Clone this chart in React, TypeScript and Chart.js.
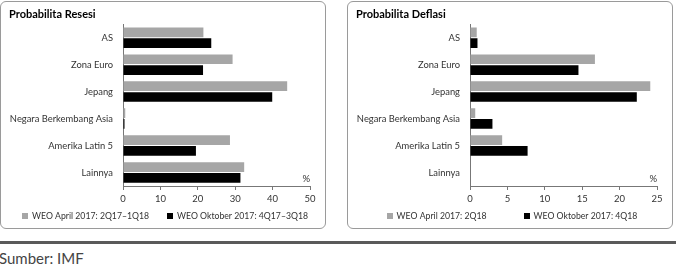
import React, { useEffect, useRef } from "react";
import { Chart, registerables } from "chart.js";

Chart.register(...registerables);

const categories = ["AS", "Zona Euro", "Jepang", "Negara Berkembang Asia", "Amerika Latin 5", "Lainnya"];

const resesiTitle = "Probabilita Resesi";
const resesiLabels = ["WEO April 2017: 2Q17–1Q18", "WEO Oktober 2017: 4Q17–3Q18"];
const resesiApril = [21.5, 29.3, 43.9, 0.6, 28.6, 32.4];
const resesiOktober = [23.6, 21.4, 39.9, 0.4, 19.5, 31.4];
const resesiMax = 50;
const resesiStep = 10;

const deflasiTitle = "Probabilita Deflasi";
const deflasiLabels = ["WEO April 2017: 2Q18", "WEO Oktober 2017: 4Q18"];
const deflasiApril = [0.9, 16.7, 24.1, 0.7, 4.3, 0];
const deflasiOktober = [1.0, 14.5, 22.3, 3.0, 7.7, 0];
const deflasiMax = 25;
const deflasiStep = 5;

const FONT = "Lato, 'Open Sans', sans-serif";
const W = 326;
const H = 230;

const percentPlugin = {
  id: "percentLabel",
  afterDraw(chart: any) {
    const { ctx, chartArea } = chart;
    ctx.save();
    ctx.font = `9.5px ${FONT}`;
    ctx.fillStyle = "#333";
    ctx.textAlign = "right";
    ctx.textBaseline = "bottom";
    ctx.fillText("%", chartArea.right, chartArea.bottom - 2);
    ctx.restore();
  },
};

const legendPlugin = {
  id: "rowLegend",
  afterDraw(chart: any, _args: any, opts: any) {
    const { ctx } = chart;
    const box = 6;
    const boxGap = 4;
    ctx.save();
    ctx.font = `${opts.fontSize}px ${FONT}`;
    const items = chart.data.datasets.map((d: any) => ({
      label: d.label as string,
      color: d.backgroundColor as string,
      w: box + boxGap + ctx.measureText(d.label).width,
    }));
    const total = items.reduce((s: number, it: any) => s + it.w, 0) + opts.gap * (items.length - 1);
    let x = opts.centerX - total / 2;
    const y = chart.chartArea.bottom + opts.offsetY;
    ctx.textBaseline = "middle";
    ctx.textAlign = "left";
    for (const it of items) {
      ctx.fillStyle = it.color;
      ctx.fillRect(Math.round(x), Math.round(y - box / 2), box, box);
      ctx.fillStyle = "#333";
      ctx.fillText(it.label, x + box + boxGap, y);
      x += it.w + opts.gap;
    }
    ctx.restore();
  },
};

function Panel(props: {
  left: number;
  title: string;
  labels: string[];
  a: number[];
  b: number[];
  max: number;
  step: number;
  gap: number;
}) {
  const ref = useRef<HTMLCanvasElement | null>(null);
  useEffect(() => {
    if (!ref.current) return;
    const chart = new Chart(ref.current, {
      type: "bar",
      data: {
        labels: categories,
        datasets: [
          { label: props.labels[0], data: props.a, backgroundColor: "#a6a6a6", borderWidth: 0 },
          { label: props.labels[1], data: props.b, backgroundColor: "#000000", borderWidth: 0 },
        ],
      },
      options: {
        indexAxis: "y",
        responsive: false,
        animation: false,
        devicePixelRatio: 1,
        datasets: { bar: { categoryPercentage: 0.8, barPercentage: 0.9 } },
        layout: { padding: { left: 9, right: 16, top: 0, bottom: 24 } },
        scales: {
          x: {
            min: 0,
            max: props.max,
            afterFit: (s: any) => {
              s.height = 20;
            },
            ticks: { stepSize: props.step, padding: 3, color: "#333", font: { size: 9.5, family: FONT } },
            grid: { drawOnChartArea: false, drawTicks: true, tickLength: 4, color: "#777" },
            border: { display: true, color: "#777" },
          },
          y: {
            afterFit: (s: any) => {
              s.width = 114;
            },
            ticks: { padding: 10, color: "#333", font: { size: 9.4, family: FONT }, autoSkip: false },
            grid: { drawOnChartArea: false, drawTicks: false },
            border: { display: true, color: "#777" },
          },
        },
        plugins: {
          title: {
            display: true,
            text: props.title,
            align: "start",
            color: "#000",
            font: { size: 11, weight: "bold", family: FONT },
            padding: { top: 8, bottom: 3 },
          },
          legend: { display: false },
          tooltip: { enabled: false },
          rowLegend: { fontSize: 8.7, gap: props.gap, centerX: 165, offsetY: 30 },
        },
      },
      plugins: [percentPlugin, legendPlugin],
    } as any);
    return () => chart.destroy();
  }, []);
  return (
    <>
      <div
        style={{
          position: "absolute",
          left: props.left,
          top: 1,
          width: W,
          height: 228,
          boxSizing: "border-box",
          border: "1px solid #9a9a9a",
          borderRadius: 6,
        }}
      />
      <canvas
        ref={ref}
        width={W}
        height={H}
        style={{ position: "absolute", left: props.left, top: 0, width: W, height: H }}
      />
    </>
  );
}

export default function App() {
  return (
    <div
      style={{
        position: "fixed",
        left: 0,
        top: 0,
        width: 676,
        height: 271,
        background: "#fff",
        overflow: "hidden",
        fontFamily: FONT,
      }}
    >
      <Panel left={0} title={resesiTitle} labels={resesiLabels} a={resesiApril} b={resesiOktober} max={resesiMax} step={resesiStep} gap={18} />
      <Panel left={347} title={deflasiTitle} labels={deflasiLabels} a={deflasiApril} b={deflasiOktober} max={deflasiMax} step={deflasiStep} gap={37} />
      <div style={{ position: "absolute", left: 0, top: 241, width: 676, height: 3, background: "#5a5a5a" }} />
      <div style={{ position: "absolute", left: -1, top: 249, fontSize: 15, color: "#444", lineHeight: "18px" }}>Sumber: IMF</div>
    </div>
  );
}
